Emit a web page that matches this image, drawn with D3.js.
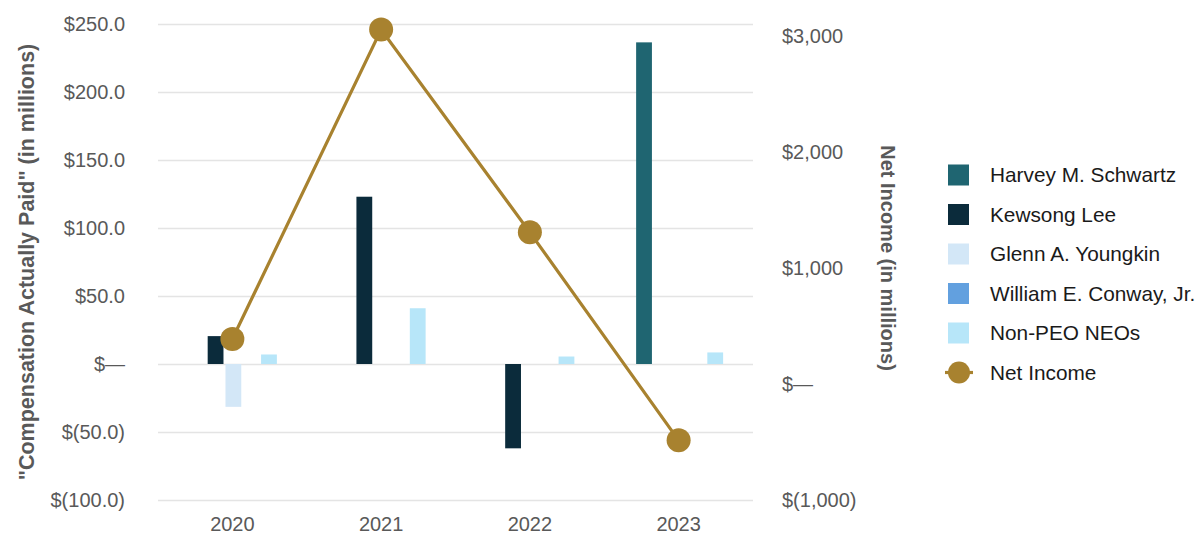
<!DOCTYPE html>
<html>
<head>
<meta charset="utf-8">
<script src="https://cdn.jsdelivr.net/npm/d3@7"></script>
<style>
  html, body { margin: 0; padding: 0; background: #fff; }
  svg { display: block; font-family: "Liberation Sans", Arial, sans-serif; }
</style>
</head>
<body>
<svg id="chart" width="1199" height="536"></svg>
<script>
const years = ["2020", "2021", "2022", "2023"];
const seriesNames = ["Harvey M. Schwartz", "Kewsong Lee", "Glenn A. Youngkin", "William E. Conway, Jr.", "Non-PEO NEOs"];
const harvey  = [null, null, null, 236.5];
const kewsong = [20.5, 123.0, -62.0, null];
const glenn   = [-31.5, null, null, null];
const william = [null, null, null, null];
const nonPeo  = [7.0, 41.0, 5.5, 8.5];
const netIncome = [390, 3060, 1310, -485];
const leftTicks = [-100, -50, 0, 50, 100, 150, 200, 250];
const rightTicks = [-1000, 0, 1000, 2000, 3000];
const colors = ["#1f6571", "#0b2b3b", "#d3e7f7", "#62a0df", "#b7e6f9"];
const lineColor = "#a8822f";

const seriesValues = [harvey, kewsong, glenn, william, nonPeo];

const svg = d3.select("#chart");
const x0 = d3.scaleBand().domain(years).range([158, 753]);
const x1 = d3.scaleBand().domain(seriesNames).range([0, 89]);
const yL = d3.scaleLinear().domain([-100, 250]).range([500, 24]);
const yR = d3.scaleLinear().domain([-1000, 3000]).range([500, 36.5]);

const fmtL = v => v === 0 ? "$\u2014" : (v < 0 ? "$(" + d3.format(".1f")(-v) + ")" : "$" + d3.format(".1f")(v));
const fmtR = v => v === 0 ? "$\u2014" : (v < 0 ? "$(" + d3.format(",")(-v) + ")" : "$" + d3.format(",")(v));

// gridlines
const gl = d3.axisLeft(yL).tickValues(leftTicks).tickSize(-(753 - 158)).tickFormat("");
svg.append("g").attr("transform", "translate(158,0)").call(gl)
  .call(g => g.select(".domain").remove())
  .call(g => g.selectAll("line").attr("stroke", "#e4e4e4").attr("stroke-width", 1.6));

// left axis labels
svg.append("g").attr("transform", "translate(125,0)")
  .call(d3.axisLeft(yL).tickValues(leftTicks).tickSize(0).tickPadding(0).tickFormat(fmtL))
  .call(g => g.select(".domain").remove())
  .call(g => g.selectAll("text").attr("fill", "#595959").attr("font-size", 20).attr("font-family", "Liberation Sans, Arial, sans-serif"));

// right axis labels
svg.append("g").attr("transform", "translate(782,0)")
  .call(d3.axisRight(yR).tickValues(rightTicks).tickSize(0).tickPadding(0).tickFormat(fmtR))
  .call(g => g.select(".domain").remove())
  .call(g => g.selectAll("text").attr("fill", "#595959").attr("font-size", 20).attr("font-family", "Liberation Sans, Arial, sans-serif"));

// x axis labels
svg.append("g").attr("transform", "translate(0,517)")
  .call(d3.axisBottom(x0).tickSize(0).tickPadding(0))
  .call(g => g.select(".domain").remove())
  .call(g => g.selectAll("text").attr("fill", "#595959").attr("font-size", 20).attr("font-family", "Liberation Sans, Arial, sans-serif"));

// axis titles
svg.append("text")
  .attr("transform", "translate(34,262) rotate(-90)")
  .attr("text-anchor", "middle")
  .attr("font-size", 21.5).attr("font-weight", "bold").attr("fill", "#595959")
  .text("\"Compensation Actually Paid\" (in millions)");
svg.append("text")
  .attr("transform", "translate(881,258) rotate(90)")
  .attr("text-anchor", "middle")
  .attr("font-size", 20).attr("font-weight", "bold").attr("fill", "#595959")
  .text("Net Income (in millions)");

// bars
const barData = [];
years.forEach((yr, i) => {
  seriesNames.forEach((s, j) => {
    const v = seriesValues[j][i];
    if (v !== null) barData.push({ yr, s, v, c: colors[j] });
  });
});
const groupOffset = (x0.bandwidth() - 89) / 2 + 1;
svg.append("g").selectAll("rect").data(barData).join("rect")
  .attr("x", d => x0(d.yr) + groupOffset + x1(d.s) + 1)
  .attr("width", x1.bandwidth() - 2)
  .attr("y", d => yL(Math.max(0, d.v)))
  .attr("height", d => Math.abs(yL(d.v) - yL(0)))
  .attr("fill", d => d.c);

// net income line
const line = d3.line().x((d, i) => x0(years[i]) + x0.bandwidth() / 2).y(d => yR(d));
svg.append("path").datum(netIncome).attr("d", line)
  .attr("fill", "none").attr("stroke", lineColor).attr("stroke-width", 3.2);
svg.append("g").selectAll("circle").data(netIncome).join("circle")
  .attr("cx", (d, i) => x0(years[i]) + x0.bandwidth() / 2)
  .attr("cy", d => yR(d))
  .attr("r", 12).attr("fill", lineColor);

// legend
const legendItems = seriesNames.map((s, i) => ({ s, c: colors[i], type: "bar" }))
  .concat([{ s: "Net Income", c: lineColor, type: "line" }]);
const lg = svg.append("g");
legendItems.forEach((d, i) => {
  const cy = 175 + i * 39.5;
  if (d.type === "bar") {
    lg.append("rect").attr("x", 948).attr("y", cy - 10.5).attr("width", 21).attr("height", 21).attr("fill", d.c);
  } else {
    lg.append("line").attr("x1", 945).attr("x2", 973).attr("y1", cy).attr("y2", cy)
      .attr("stroke", d.c).attr("stroke-width", 3.2);
    lg.append("circle").attr("cx", 959).attr("cy", cy).attr("r", 11).attr("fill", d.c);
  }
  lg.append("text").attr("x", 990).attr("y", cy).attr("dy", "0.35em")
    .attr("font-size", 20.8).attr("fill", "#1a1a1a").text(d.s);
});
</script>
</body>
</html>
